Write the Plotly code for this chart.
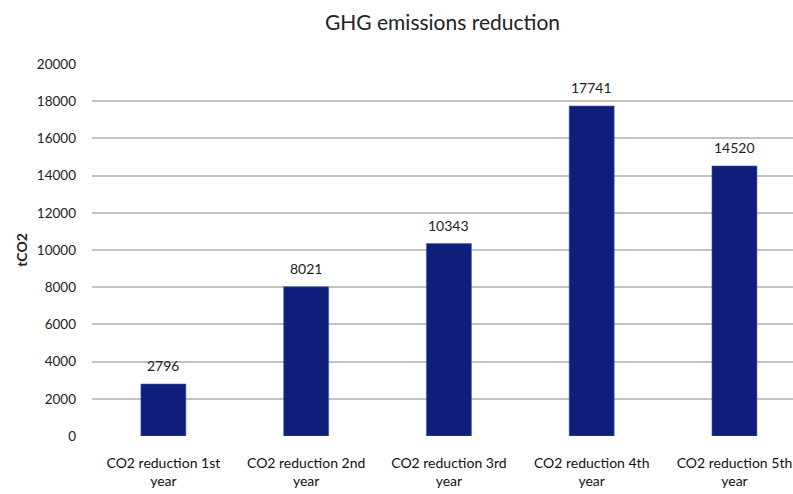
import plotly.graph_objects as go

categories = ["CO2 reduction 1st<br>year", "CO2 reduction 2nd<br>year", "CO2 reduction 3rd<br>year",
              "CO2 reduction 4th<br>year", "CO2 reduction 5th<br>year"]
values = [2796, 8021, 10343, 17741, 14520]
y_ticks = list(range(0, 20001, 2000))

font = "Lato, Open Sans, sans-serif"
xs = list(range(len(categories)))

fig = go.Figure(go.Bar(
    x=xs, y=values,
    marker=dict(color="#0e1e7a", line=dict(color="#3c5fc8", width=0.6)),
    width=0.315,
))

# value labels above bars
for x, v in zip(xs, values):
    fig.add_annotation(x=x, y=v, text=str(v), showarrow=False, yanchor="bottom", yshift=8,
                       font=dict(size=14, color="#222222", family=font))

fig.update_layout(
    width=793, height=494,
    margin=dict(l=92, r=0, t=64, b=58),
    plot_bgcolor="white", paper_bgcolor="white",
    showlegend=False,
    title=dict(text="GHG emissions reduction", x=0.5, xref="paper", y=0.955, yanchor="middle",
               font=dict(size=21, color="#222222", family=font)),
    font=dict(family=font, color="#222222"),
)
fig.update_xaxes(
    tickmode="array", tickvals=xs, ticktext=categories, automargin=False,
    range=[-0.5, 4.41], showgrid=False, zeroline=False, showline=False,
    tickfont=dict(size=14, color="#111111", family=font), ticks="", ticklabelstandoff=17,
)
fig.update_yaxes(
    range=[0, 20000], tickvals=y_ticks, ticktext=[str(t) for t in y_ticks], automargin=False,
    showgrid=True, gridcolor="#c2c2c2", gridwidth=1.6,
    zeroline=False, showline=False, ticks="", ticklabelstandoff=15,
    tickfont=dict(size=13.5, color="#222222", family=font),
    title=dict(text="<b>tCO2</b>", font=dict(size=14, color="#222222", family=font), standoff=5),
)
fig.write_html("out.html", config={"displayModeBar": False},
               post_script="document.body.style.margin='0';")
